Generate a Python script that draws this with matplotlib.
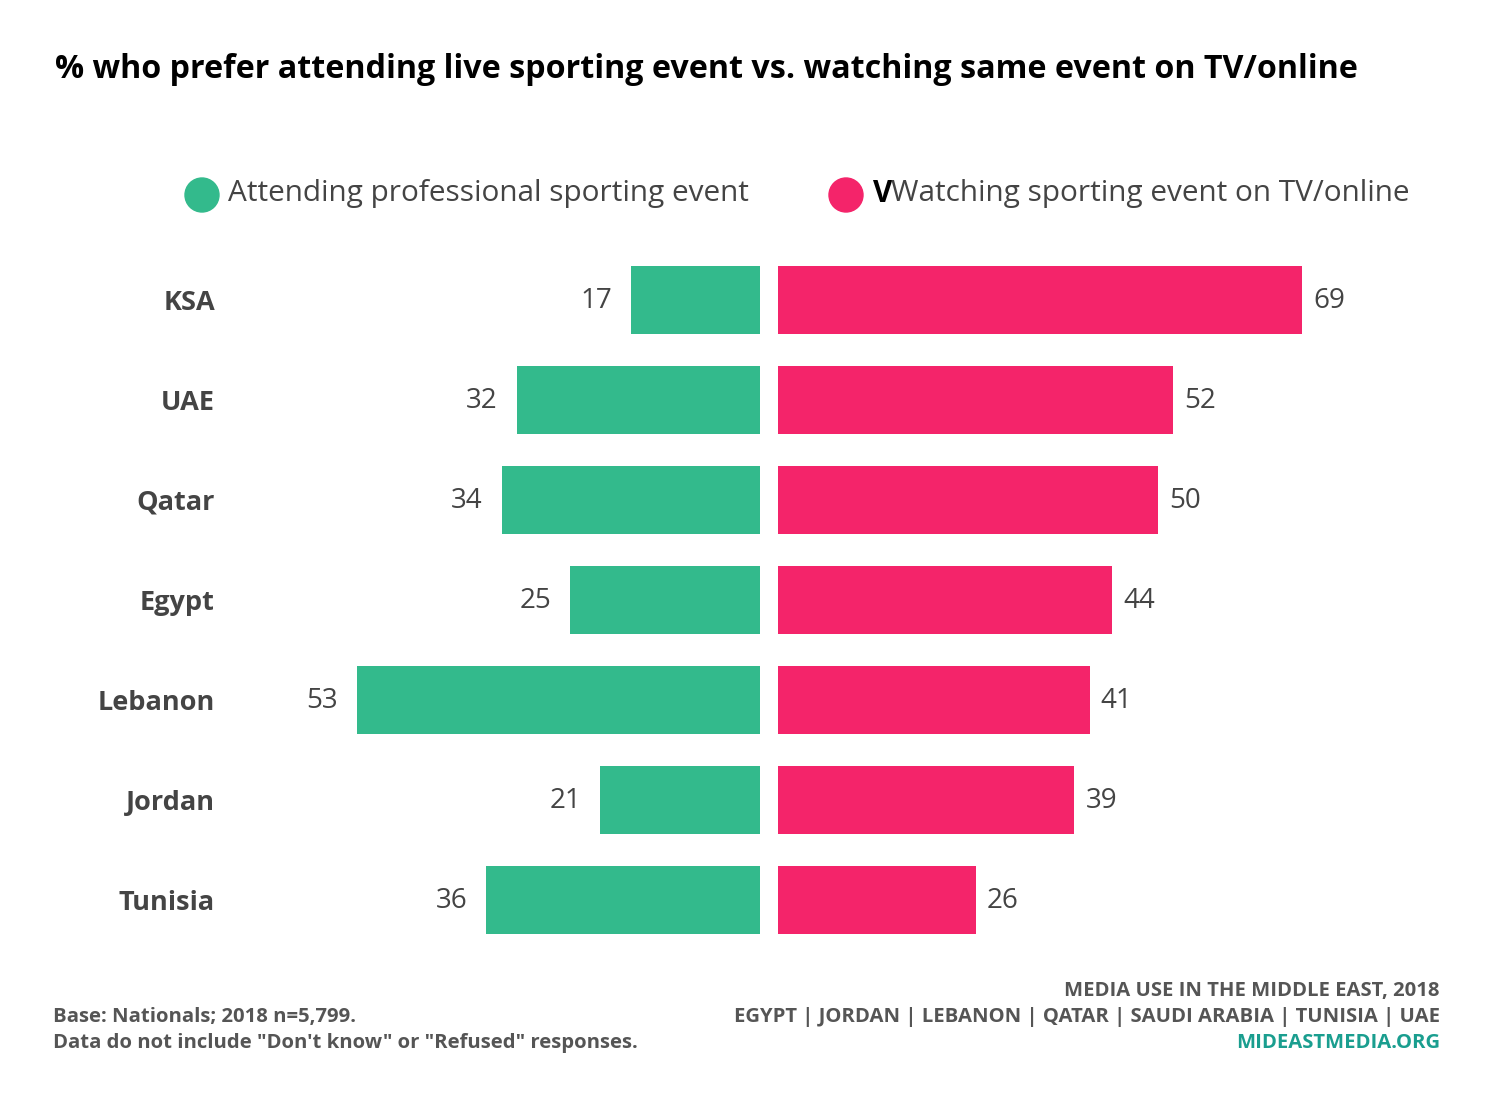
import matplotlib.pyplot as plt
from matplotlib.patches import Ellipse

countries = ['KSA', 'UAE', 'Qatar', 'Egypt', 'Lebanon', 'Jordan', 'Tunisia']
attending = [17, 32, 34, 25, 53, 21, 36]
watching = [69, 52, 50, 44, 41, 39, 26]

GREEN = '#33BA8C'
PINK = '#F4246A'
TEXT = '#444444'
FOOT = '#555555'

plt.rcParams['font.family'] = ['Open Sans', 'DejaVu Sans']

fig = plt.figure(figsize=(15, 11), dpi=100)
ax = fig.add_axes([0, 0, 1, 1])
# one data unit ~ 7.6 px, zero at 769 px
px = 7.6
ax.set_xlim(-769 / px, (1500 - 769) / px)
ax.set_ylim(8.0, -3.0)
ax.axis('off')

gap = 9 / px
y = list(range(len(countries)))
ax.barh(y, [-v for v in attending], left=-gap, height=0.68, color=GREEN)
ax.barh(y, watching, left=gap, height=0.68, color=PINK)

for i, (c, a, w) in enumerate(zip(countries, attending, watching)):
    ax.text(-gap - a - 19 / px, i + 0.01, str(a), ha='right', va='center',
            fontsize=20, color=TEXT)
    ax.text(gap + w + 11 / px, i + 0.01, str(w), ha='left', va='center',
            fontsize=20, color=TEXT)
    fig.text(215 / 1500, 1 - (303 + i * 100) / 1100, c, ha='right', va='center',
             fontsize=19.5, fontweight='bold', color=TEXT)

# title
fig.text(55 / 1500, 1 - 70 / 1100,
         '% who prefer attending live sporting event vs. watching same event on TV/online',
         ha='left', va='center', fontsize=23.2, fontweight='bold', color='black')

# legend
for cx, col in [(202, GREEN), (846, PINK)]:
    fig.patches.append(Ellipse((cx / 1500, 1 - 195 / 1100), 34 / 1500, 34 / 1100,
                               transform=fig.transFigure, color=col))
fig.text(228 / 1500, 1 - 194 / 1100, 'Attending professional sporting event',
         ha='left', va='center', fontsize=21.4, color=TEXT)
fig.text(873 / 1500, 1 - 194 / 1100, 'V', ha='left', va='center',
         fontsize=21.4, fontweight='bold', color='black')
fig.text(891 / 1500, 1 - 194 / 1100, 'Watching sporting event on TV/online',
         ha='left', va='center', fontsize=21.4, color=TEXT)

# footnotes
fs = 14.6
fig.text(53 / 1500, 1 - 1017 / 1100, 'Base: Nationals; 2018 n=5,799.',
         ha='left', va='center', fontsize=fs, fontweight='bold', color=FOOT)
fig.text(53 / 1500, 1 - 1043 / 1100,
         'Data do not include "Don\'t know" or "Refused" responses.',
         ha='left', va='center', fontsize=fs, fontweight='bold', color=FOOT)
fig.text(1440 / 1500, 1 - 991 / 1100, 'MEDIA USE IN THE MIDDLE EAST, 2018',
         ha='right', va='center', fontsize=fs, fontweight='bold', color=FOOT)
fig.text(1440 / 1500, 1 - 1017 / 1100,
         'EGYPT | JORDAN | LEBANON | QATAR | SAUDI ARABIA | TUNISIA | UAE',
         ha='right', va='center', fontsize=fs, fontweight='bold', color=FOOT)
fig.text(1440 / 1500, 1 - 1043 / 1100, 'MIDEASTMEDIA.ORG',
         ha='right', va='center', fontsize=fs, fontweight='bold', color='#1A9E8F')

fig.savefig('out.png', dpi=100, facecolor='white')
